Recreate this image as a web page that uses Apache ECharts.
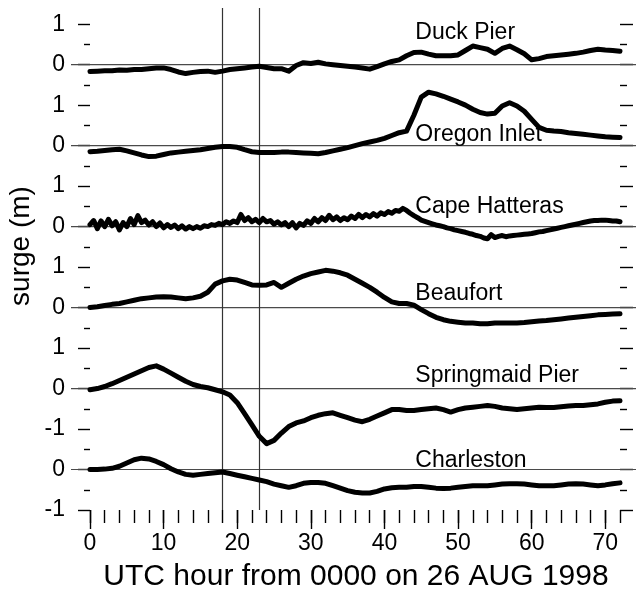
<!DOCTYPE html>
<html>
<head>
<meta charset="utf-8">
<script src="https://cdn.jsdelivr.net/npm/echarts@6/dist/echarts.min.js"></script>
<style>
  html, body { margin: 0; padding: 0; background: #fff; }
  #chart { width: 636px; height: 595px; }
</style>
</head>
<body>
<div id="chart"></div>
<script>
// Storm surge (m) at six tide gauges, hourly, UTC hours from 0000 on 26 Aug 1998
const hours = Array.from({ length: 73 }, (_, i) => i);

const stations = ['Duck Pier', 'Oregon Inlet', 'Cape Hatteras', 'Beaufort', 'Springmaid Pier', 'Charleston'];
// each record is stacked 2 m above the next one
const stationOffsets = [10, 8, 6, 4, 2, 0];

const duckPier = [
  -0.17, -0.16, -0.15, -0.15, -0.13, -0.14, -0.12, -0.12, -0.10, -0.08,
  -0.08, -0.12, -0.18, -0.22, -0.19, -0.17, -0.16, -0.19, -0.16, -0.12,
  -0.10, -0.08, -0.06, -0.04, -0.07, -0.10, -0.10, -0.16, -0.02, 0.05,
  0.03, 0.06, 0.02, 0.00, -0.02, -0.04, -0.06, -0.08, -0.11, -0.05,
  0.02, 0.08, 0.12, 0.22, 0.30, 0.31, 0.26, 0.22, 0.22, 0.22,
  0.24, 0.35, 0.46, 0.42, 0.38, 0.28, 0.40, 0.46, 0.37, 0.27,
  0.12, 0.15, 0.20, 0.22, 0.24, 0.26, 0.28, 0.31, 0.35, 0.38,
  0.36, 0.35, 0.33
];

const oregonInlet = [
  -0.15, -0.14, -0.12, -0.10, -0.09, -0.13, -0.18, -0.23, -0.27, -0.26,
  -0.22, -0.18, -0.16, -0.14, -0.12, -0.10, -0.07, -0.04, -0.02, -0.02,
  -0.04, -0.10, -0.15, -0.17, -0.17, -0.17, -0.16, -0.16, -0.17, -0.18,
  -0.19, -0.20, -0.17, -0.13, -0.09, -0.05, 0.00, 0.05, 0.09, 0.13,
  0.18, 0.25, 0.32, 0.36, 0.75, 1.20, 1.32, 1.28, 1.22, 1.15,
  1.08, 1.00, 0.90, 0.82, 0.78, 0.80, 0.98, 1.06, 0.98, 0.85,
  0.65, 0.45, 0.38, 0.36, 0.35, 0.32, 0.30, 0.28, 0.26, 0.24,
  0.22, 0.21, 0.20
];

// Cape Hatteras is noisier, so it is kept at half-hour resolution
const capeHatteras = [
  0.05, 0.15, -0.05, 0.14, 0.00, 0.18, 0.02, 0.12, -0.08, 0.10,
  0.00, 0.20, 0.05, 0.27, 0.10, 0.16, 0.04, 0.12, 0.00, 0.09,
  -0.03, 0.05, -0.02, 0.04, -0.05, 0.02, -0.06, 0.00, -0.05, 0.00,
  -0.04, 0.02, 0.00, 0.05, 0.03, 0.08, 0.05, 0.12, 0.08, 0.14,
  0.10, 0.30, 0.15, 0.22, 0.12, 0.18, 0.10, 0.20, 0.12, 0.15,
  0.06, 0.12, 0.04, 0.10, 0.00, 0.10, -0.03, 0.08, 0.03, 0.14,
  0.08, 0.20, 0.12, 0.22, 0.15, 0.28, 0.17, 0.24, 0.15, 0.22,
  0.17, 0.26, 0.20, 0.30, 0.22, 0.30, 0.24, 0.32, 0.26, 0.34,
  0.30, 0.37, 0.33, 0.40, 0.38, 0.45, 0.40, 0.33, 0.27, 0.22,
  0.16, 0.13, 0.10, 0.07, 0.04, 0.02, 0.00, -0.03, -0.05, -0.08,
  -0.10, -0.12, -0.14, -0.17, -0.19, -0.22, -0.24, -0.28, -0.30, -0.20,
  -0.27, -0.24, -0.22, -0.25, -0.23, -0.22, -0.21, -0.20, -0.19, -0.18,
  -0.17, -0.15, -0.13, -0.12, -0.10, -0.08, -0.06, -0.04, -0.02, 0.00,
  0.02, 0.04, 0.06, 0.08, 0.10, 0.12, 0.14, 0.15, 0.15, 0.16,
  0.16, 0.15, 0.14, 0.14, 0.12
];
const capeHours = capeHatteras.map((_, i) => i * 0.5);

const beaufort = [
  0.00, 0.02, 0.05, 0.08, 0.10, 0.14, 0.18, 0.22, 0.24, 0.26,
  0.27, 0.26, 0.24, 0.22, 0.24, 0.28, 0.38, 0.58, 0.66, 0.70,
  0.68, 0.62, 0.56, 0.55, 0.56, 0.62, 0.50, 0.60, 0.70, 0.78,
  0.84, 0.88, 0.92, 0.90, 0.86, 0.80, 0.70, 0.60, 0.50, 0.38,
  0.25, 0.14, 0.10, 0.10, 0.06, -0.05, -0.15, -0.24, -0.30, -0.34,
  -0.36, -0.38, -0.38, -0.40, -0.40, -0.38, -0.38, -0.38, -0.38, -0.37,
  -0.35, -0.33, -0.32, -0.30, -0.28, -0.26, -0.24, -0.22, -0.20, -0.18,
  -0.17, -0.16, -0.15
];

const springmaidPier = [
  -0.03, 0.00, 0.05, 0.12, 0.20, 0.28, 0.36, 0.44, 0.52, 0.56,
  0.48, 0.38, 0.28, 0.18, 0.10, 0.05, 0.02, -0.03, -0.08, -0.16,
  -0.35, -0.62, -0.90, -1.18, -1.36, -1.28, -1.10, -0.94, -0.85, -0.80,
  -0.72, -0.66, -0.62, -0.60, -0.66, -0.72, -0.78, -0.82, -0.76, -0.68,
  -0.60, -0.52, -0.52, -0.54, -0.54, -0.52, -0.50, -0.48, -0.52, -0.58,
  -0.52, -0.48, -0.46, -0.44, -0.42, -0.44, -0.48, -0.50, -0.52, -0.50,
  -0.48, -0.46, -0.47, -0.47, -0.45, -0.43, -0.42, -0.42, -0.40, -0.38,
  -0.34, -0.31, -0.30
];

const charleston = [
  0.00, 0.00, 0.01, 0.03, 0.08, 0.16, 0.24, 0.28, 0.26, 0.20,
  0.12, 0.02, -0.06, -0.12, -0.14, -0.12, -0.10, -0.08, -0.06, -0.10,
  -0.14, -0.18, -0.22, -0.26, -0.30, -0.36, -0.40, -0.44, -0.40, -0.34,
  -0.32, -0.32, -0.34, -0.40, -0.46, -0.52, -0.56, -0.58, -0.58, -0.54,
  -0.48, -0.45, -0.44, -0.44, -0.42, -0.42, -0.44, -0.46, -0.47, -0.46,
  -0.44, -0.42, -0.40, -0.40, -0.40, -0.38, -0.36, -0.35, -0.35, -0.36,
  -0.38, -0.40, -0.40, -0.40, -0.38, -0.36, -0.35, -0.36, -0.38, -0.40,
  -0.38, -0.35, -0.33
];

const stationHours = [hours, hours, capeHours, hours, hours, hours];
const stationSurge = [duckPier, oregonInlet, capeHatteras, beaufort, springmaidPier, charleston];

// times of the two vertical reference lines (UTC hour)
const markerHours = [18, 23];

// y tick values on the stacked axis and the surge each one stands for
const yTickValues = [-1, 0, 1, 2, 3, 4, 5, 6, 7, 8, 9, 10, 11];
const yTickLabels = ['-1', '0', '-1', '0', '1', '0', '1', '0', '1', '0', '1', '0', '1'];
const yMinorValues = [-0.5, 0.5, 1.5, 2.5, 3.5, 4.5, 5.5, 6.5, 7.5, 8.5, 9.5, 10.5];
const xMajorValues = [0, 10, 20, 30, 40, 50, 60, 70];

const FONT = '"Liberation Sans", Arial, Helvetica, sans-serif';
const Y_MIN = -1, Y_MAX = 11.4;
const tickStyle = { color: '#000', width: 1.4 };
const noAxisLine = { show: false, onZero: false };

const chart = echarts.init(document.getElementById('chart'), null, { renderer: 'canvas' });

const series = [];

// thin zero line for every record
stationOffsets.forEach((off) => {
  series.push({
    type: 'line', xAxisIndex: 2, yAxisIndex: 4, silent: true, symbol: 'none',
    data: [[0, off], [1, off]],
    lineStyle: { color: '#4a4a4a', width: 1.2 },
    z: 1
  });
});

stations.forEach((name, k) => {
  const off = stationOffsets[k];
  const s = {
    type: 'line', name, xAxisIndex: 0, yAxisIndex: 0, symbol: 'none', clip: false,
    data: stationHours[k].map((h, i) => [h, stationSurge[k][i] + off]),
    lineStyle: { color: '#000', width: 5, join: 'round', cap: 'round' },
    z: 3
  };
  if (k === 0) {
    s.markLine = {
      silent: true, symbol: 'none', label: { show: false },
      lineStyle: { color: '#333', width: 1.2, type: 'solid' },
      data: markerHours.map((h) => ({ xAxis: h })),
      z: 2
    };
  }
  series.push(s);
});

chart.setOption({
  animation: false,
  backgroundColor: '#fff',
  textStyle: { fontFamily: FONT },
  grid: [
    { left: 90, right: 16, top: 8, bottom: 85 },
    { left: 90, right: 16, top: 8, bottom: 85 },
    { left: 71, right: 0, top: 8, bottom: 85 }
  ],
  xAxis: [
    {
      gridIndex: 0, type: 'value', min: 0, max: 72, interval: 2, position: 'bottom',
      axisLine: noAxisLine, splitLine: { show: false },
      axisTick: { show: true, length: 13, lineStyle: tickStyle },
      axisLabel: { show: false }
    },
    {
      gridIndex: 1, type: 'value', min: 0, max: 72, interval: 10, position: 'bottom',
      axisLine: noAxisLine, splitLine: { show: false },
      axisTick: { show: true, length: 19, customValues: xMajorValues, lineStyle: tickStyle },
      axisLabel: { customValues: xMajorValues, fontSize: 23, color: '#000', margin: 22, fontFamily: FONT }
    },
    { gridIndex: 2, type: 'value', min: 0, max: 1, show: false, axisLine: noAxisLine }
  ],
  yAxis: [
    {
      gridIndex: 0, type: 'value', min: Y_MIN, max: Y_MAX, interval: 1, position: 'left',
      axisLine: noAxisLine, splitLine: { show: false },
      axisTick: { show: true, length: 12, customValues: yTickValues, lineStyle: tickStyle },
      axisLabel: {
        customValues: yTickValues, fontSize: 23, color: '#000', margin: 25, fontFamily: FONT,
        formatter: (v) => yTickLabels[yTickValues.indexOf(Math.round(v))]
      }
    },
    {
      gridIndex: 0, type: 'value', min: Y_MIN, max: Y_MAX, interval: 1, position: 'right',
      axisLine: noAxisLine, splitLine: { show: false },
      axisTick: { show: true, length: 13, customValues: yTickValues, lineStyle: tickStyle },
      axisLabel: { show: false }
    },
    {
      gridIndex: 1, type: 'value', min: Y_MIN, max: Y_MAX, interval: 1, position: 'left',
      axisLine: noAxisLine, splitLine: { show: false },
      axisTick: { show: true, length: 6, customValues: yMinorValues, lineStyle: tickStyle },
      axisLabel: { show: false }
    },
    {
      gridIndex: 1, type: 'value', min: Y_MIN, max: Y_MAX, interval: 1, position: 'right',
      axisLine: noAxisLine, splitLine: { show: false },
      axisTick: { show: true, length: 7, customValues: yMinorValues, lineStyle: tickStyle },
      axisLabel: { show: false }
    },
    { gridIndex: 2, type: 'value', min: Y_MIN, max: Y_MAX, show: false, axisLine: noAxisLine }
  ],
  series
});

// station names sit just above each record, starting at hour 44
const labelHour = 44.2;
const labelLift = [0.8, 0.27, 0.5, 0.35, 0.33, 0.22];
const graphics = stations.map((name, k) => {
  const p = chart.convertToPixel({ gridIndex: 0 }, [labelHour, stationOffsets[k] + labelLift[k]]);
  return {
    type: 'text', x: p[0], y: p[1], silent: true, z: 10,
    style: { text: name, font: '23px ' + FONT, fill: '#000', align: 'left', verticalAlign: 'middle' }
  };
});
graphics.push({
  type: 'text', x: 21, y: 246, rotation: Math.PI / 2, silent: true, z: 10,
  style: { text: 'surge (m)', font: '28px ' + FONT, fill: '#000', align: 'center', verticalAlign: 'middle' }
});
graphics.push({
  type: 'text', x: 356, y: 577, silent: true, z: 10,
  style: { text: 'UTC hour from 0000 on 26 AUG 1998', font: '30px ' + FONT, fill: '#000', align: 'center', verticalAlign: 'middle' }
});
chart.setOption({ graphic: graphics });
</script>
</body>
</html>
